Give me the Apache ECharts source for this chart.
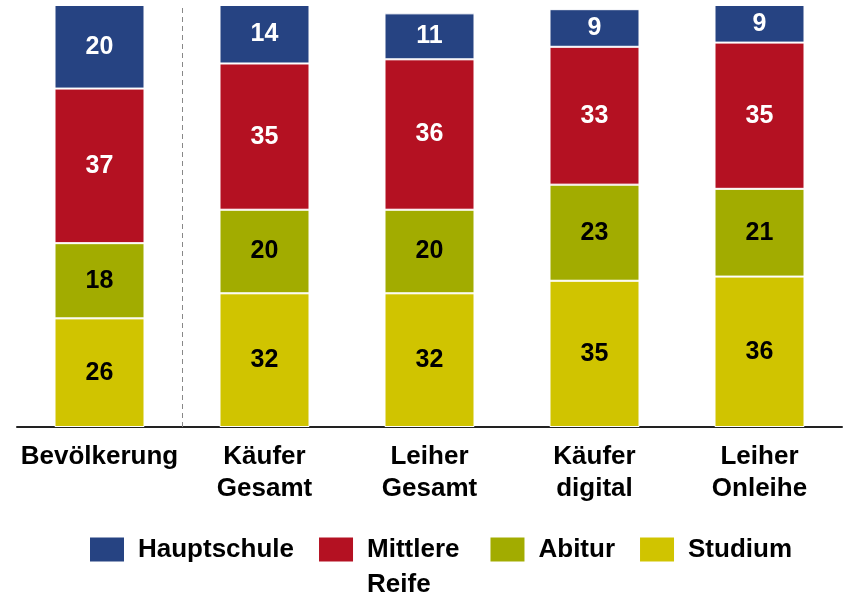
<!DOCTYPE html>
<html>
<head>
<meta charset="utf-8">
<script src="https://cdn.jsdelivr.net/npm/echarts@6/dist/echarts.min.js"></script>
<style>
html, body { margin: 0; padding: 0; background: #fff; }
#container { width: 846px; height: 596px; }
</style>
</head>
<body>
<div id="container"></div>
<script>
var categories = ['Bevölkerung', 'Käufer\nGesamt', 'Leiher\nGesamt', 'Käufer\ndigital', 'Leiher\nOnleihe'];
var studium = [26, 32, 32, 35, 36];
var abitur = [18, 20, 20, 23, 21];
var mittlereReife = [37, 35, 36, 33, 35];
var hauptschule = [20, 14, 11, 9, 9];
// dashed divider sits between the first and second category
var dividerAt = 0.5;

var font = '"Liberation Sans", Arial, sans-serif';
var dom = document.getElementById('container');
var myChart = echarts.init(dom);

function bar(name, data, color, labelColor) {
    return {
        name: name,
        type: 'bar',
        stack: 'total',
        barWidth: 90,
        data: data,
        itemStyle: { color: color, borderColor: '#fff', borderWidth: 1 },
        label: {
            show: true,
            position: 'inside',
            color: labelColor,
            fontFamily: font,
            fontWeight: 'bold',
            fontSize: 25
        }
    };
}

myChart.setOption({
    animation: false,
    grid: { left: 17, right: 4, top: 5, bottom: 169 },
    legend: {
        left: 88,
        top: 497,
        padding: 0,
        itemWidth: 36,
        itemHeight: 26,
        itemGap: 15,
        icon: 'rect',
        textStyle: { fontFamily: font, fontWeight: 'bold', fontSize: 26, lineHeight: 35, color: '#000', padding: [0, 8, 0, 8] },
        data: [
            'Hauptschule',
            { name: 'Mittlere Reife', textStyle: { padding: [0, 14, 0, 8] } },
            'Abitur',
            'Studium'
        ],
        formatter: function (n) { return n === 'Mittlere Reife' ? '\nMittlere\nReife' : n; }
    },
    xAxis: [{
        type: 'category',
        data: categories,
        axisLine: { lineStyle: { color: '#222', width: 2 } },
        axisTick: { show: false },
        axisLabel: {
            color: '#000',
            fontFamily: font,
            fontWeight: 'bold',
            fontSize: 26,
            lineHeight: 32,
            margin: 14,
            interval: 0
        }
    }, {
        type: 'value',
        min: -0.5,
        max: categories.length - 0.5,
        show: false
    }],
    yAxis: { type: 'value', min: 0, max: 101, show: false },
    series: [
        bar('Studium', studium, '#D0C400', '#000'),
        bar('Abitur', abitur, '#A2AC00', '#000'),
        bar('Mittlere Reife', mittlereReife, '#B41122', '#fff'),
        bar('Hauptschule', hauptschule, '#264382', '#fff'),
        {
            type: 'line',
            xAxisIndex: 1,
            data: [],
            markLine: {
                silent: true,
                symbol: 'none',
                label: { show: false },
                lineStyle: { color: '#888', type: [5, 4], width: 1 },
                data: [{ xAxis: dividerAt }]
            }
        }
    ]
});
</script>
</body>
</html>
